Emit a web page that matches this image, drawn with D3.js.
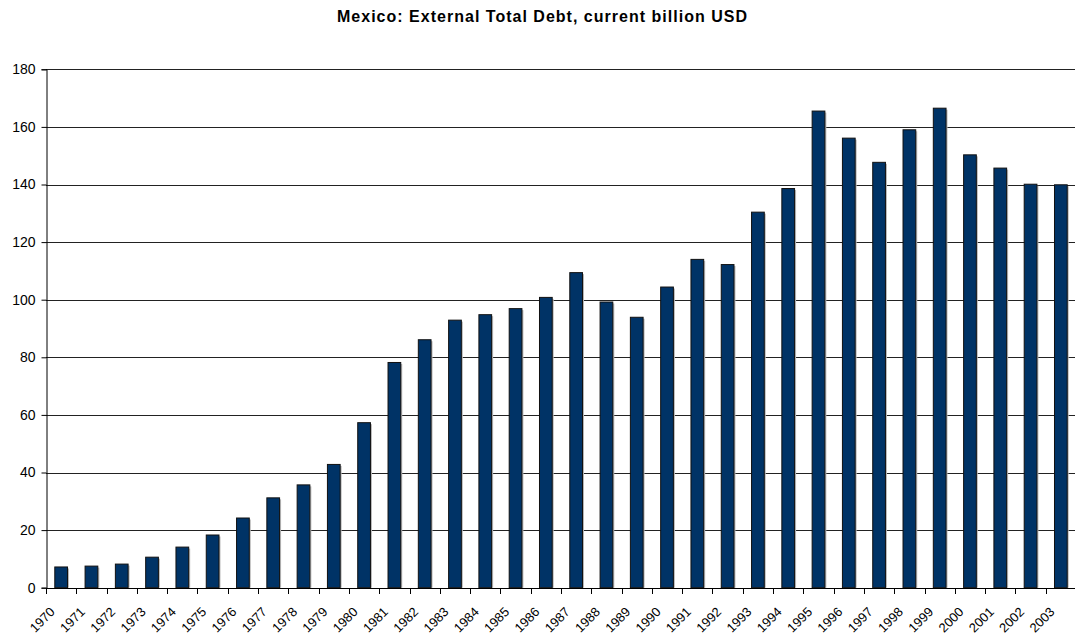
<!DOCTYPE html>
<html>
<head>
<meta charset="utf-8">
<script src="https://cdn.jsdelivr.net/npm/d3@7"></script>
<style>
  body { margin: 0; background: #fff; }
  text { font-family: Arial, "Liberation Sans", sans-serif; }
</style>
</head>
<body>
<svg id="chart" width="1075" height="639"></svg>
<script>
/* Data */

var TITLE = "Mexico: External Total Debt, current billion USD";

var years = ["1970","1971","1972","1973","1974","1975","1976","1977","1978","1979",
             "1980","1981","1982","1983","1984","1985","1986","1987","1988","1989",
             "1990","1991","1992","1993","1994","1995","1996","1997","1998","1999",
             "2000","2001","2002","2003"];

var debt = [7.2, 7.5, 8.2, 10.6, 14.1, 18.3, 24.2, 31.2, 35.7, 42.8,
            57.3, 78.2, 86.1, 92.9, 94.8, 96.9, 100.8, 109.4, 99.2, 93.9,
            104.4, 114.0, 112.2, 130.4, 138.6, 165.5, 156.1, 147.7, 159.0, 166.5,
            150.3, 145.7, 140.1, 139.9];

var yTicks = [0, 20, 40, 60, 80, 100, 120, 140, 160, 180];

/* Measures */

var W = 1075,
    H = 639;

var PLOT = { left: 46, right: 1076, top: 69.3, bottom: 587.7 };

var BAR_COLOR = "#003366";

var svg = d3.select("#chart");

var x = d3.scaleBand()
    .domain(years)
    .range([PLOT.left, PLOT.right])
    .paddingInner(0.58)
    .paddingOuter(0.29);

var y = d3.scaleLinear()
    .domain([0, 180])
    .range([PLOT.bottom, PLOT.top]);

// title
svg.append("text")
    .attr("x", 542)
    .attr("y", 22)
    .attr("text-anchor", "middle")
    .attr("textLength", 410)
    .attr("lengthAdjust", "spacing")
    .style("font-size", "16px")
    .style("font-weight", "bold")
    .text(TITLE);

// gridlines
svg.append("g")
    .selectAll("line")
    .data(yTicks.filter(function(d) { return d > 0; }))
    .enter().append("line")
    .attr("x1", PLOT.left)
    .attr("x2", W)
    .attr("y1", function(d) { return Math.round(y(d)) + 0.5; })
    .attr("y2", function(d) { return Math.round(y(d)) + 0.5; })
    .attr("stroke", "#222")
    .attr("stroke-width", 1);

// bar shadows
svg.append("g")
    .selectAll("rect")
    .data(debt)
    .enter().append("rect")
    .attr("x", function(d, i) { return x(years[i]) + 1.5; })
    .attr("y", function(d) { return y(d) + 1.5; })
    .attr("width", x.bandwidth())
    .attr("height", function(d) { return PLOT.bottom - y(d) - 1.5; })
    .attr("fill", "#b8b8b8");

// bars
svg.append("g")
    .selectAll("rect")
    .data(debt)
    .enter().append("rect")
    .attr("x", function(d, i) { return x(years[i]); })
    .attr("y", function(d) { return y(d); })
    .attr("width", x.bandwidth())
    .attr("height", function(d) { return PLOT.bottom - y(d); })
    .attr("fill", BAR_COLOR)
    .attr("stroke", "#111")
    .attr("stroke-width", 1);

// y axis
var yAxis = d3.axisLeft(y)
    .tickValues(yTicks)
    .tickSize(5)
    .tickPadding(6);

var gy = svg.append("g")
    .attr("transform", "translate(" + (PLOT.left + 0.5) + ",0)")
    .call(yAxis);
gy.select(".domain").attr("stroke", "#000");
gy.selectAll(".tick line").attr("stroke", "#000");
gy.selectAll(".tick text")
    .style("font-size", "14px")
    .attr("fill", "#000");

// x axis: ticks at category boundaries
var step = x.step();
var boundaries = years.map(function(d) { return x(d) - x.paddingOuter() * step; });
boundaries.push(PLOT.right);

var gx = svg.append("g");
gx.append("line")
    .attr("x1", PLOT.left)
    .attr("x2", W)
    .attr("y1", Math.round(PLOT.bottom) + 0.5)
    .attr("y2", Math.round(PLOT.bottom) + 0.5)
    .attr("stroke", "#000");
gx.selectAll("line.tick")
    .data(boundaries)
    .enter().append("line")
    .attr("class", "tick")
    .attr("x1", function(d) { return Math.round(d) + 0.5; })
    .attr("x2", function(d) { return Math.round(d) + 0.5; })
    .attr("y1", Math.round(PLOT.bottom))
    .attr("y2", Math.round(PLOT.bottom) + 6)
    .attr("stroke", "#000");
gx.selectAll("text")
    .data(years)
    .enter().append("text")
    .attr("transform", function(d) {
        var cx = x(d) + x.bandwidth() / 2;
        return "translate(" + (cx - 5.5) + "," + (PLOT.bottom + 25) + ") rotate(-45)";
    })
    .attr("text-anchor", "end")
    .style("font-size", "13px")
    .attr("fill", "#000")
    .text(function(d) { return d; });
</script>
</body>
</html>
